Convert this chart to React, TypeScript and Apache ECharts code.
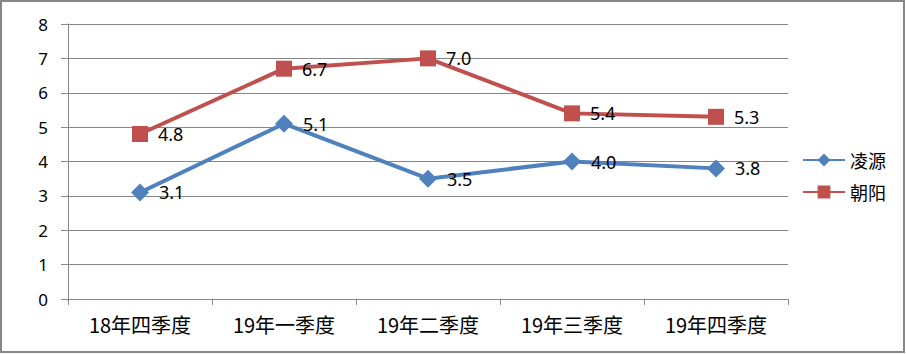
import React, { useEffect, useRef } from "react";
import * as echarts from "echarts";

const categories = ["18年四季度", "19年一季度", "19年二季度", "19年三季度", "19年四季度"];
const lingyuan = [3.1, 5.1, 3.5, 4.0, 3.8];
const chaoyang = [4.8, 6.7, 7.0, 5.4, 5.3];
const seriesNames = ["凌源", "朝阳"];

export default function App() {
  const ref = useRef<HTMLDivElement>(null);
  useEffect(() => {
    document.body.style.margin = "0";
    const chart = echarts.init(ref.current!, undefined, { renderer: "svg" });
    const labelCfg = {
      show: true,
      position: "right" as const,
      distance: 10,
      fontSize: 18,
      fontFamily: "Noto Sans",
      color: "#000",
      formatter: (p: any) => Number(p.value).toFixed(1),
    };
    chart.setOption({
      animation: false,
      backgroundColor: "#fff",
      graphic: [
        {
          type: "rect",
          shape: { x: 1, y: 1, width: 903, height: 351 },
          style: { fill: "none", stroke: "#878787", lineWidth: 2 },
          silent: true,
        },
      ],
      grid: { left: 68, right: 118, top: 24, bottom: 55 },
      legend: {
        orient: "vertical",
        left: 797,
        top: 146,
        itemWidth: 42,
        itemHeight: 16,
        itemGap: 14,
        textStyle: { fontSize: 18, fontFamily: "Noto Sans CJK SC", color: "#000" },
        data: seriesNames,
      },
      xAxis: {
        type: "category",
        data: categories,
        boundaryGap: true,
        axisLine: { show: true, lineStyle: { color: "#868686", width: 1 } },
        axisTick: { show: true, length: 6, lineStyle: { color: "#868686" } },
        axisLabel: { fontSize: 20, fontFamily: "Noto Sans CJK SC", color: "#000", margin: 15 },
      },
      yAxis: {
        type: "value",
        min: 0,
        max: 8,
        interval: 1,
        axisLine: { show: true, lineStyle: { color: "#868686", width: 1 } },
        axisTick: { show: true, length: 7, lineStyle: { color: "#868686" } },
        splitLine: { show: true, lineStyle: { color: "#868686", width: 1 } },
        axisLabel: { fontSize: 17, fontFamily: "Noto Sans", color: "#000", margin: 20 },
      },
      series: [
        {
          name: seriesNames[0],
          type: "line",
          data: lingyuan,
          symbol: "diamond",
          symbolSize: 18,
          itemStyle: { color: "#4F81BD" },
          lineStyle: { color: "#4F81BD", width: 4 },
          label: labelCfg,
        },
        {
          name: seriesNames[1],
          type: "line",
          data: chaoyang,
          symbol: "rect",
          symbolSize: 16,
          itemStyle: { color: "#C0504D" },
          lineStyle: { color: "#C0504D", width: 4 },
          label: labelCfg,
        },
      ],
    });
    return () => chart.dispose();
  }, []);
  return (
    <div
      ref={ref}
      style={{ position: "absolute", left: 0, top: 0, width: 906, height: 354 }}
    />
  );
}
